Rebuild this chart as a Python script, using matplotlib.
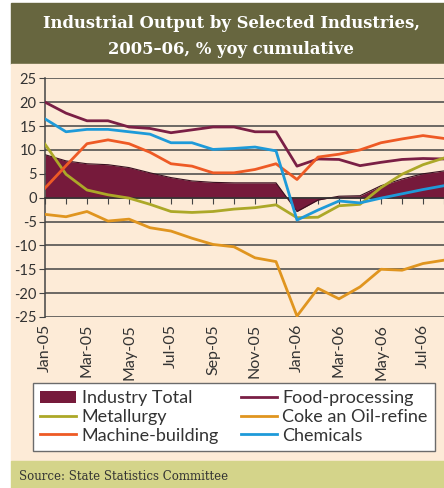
"""
Industrial output by selected industries, 2005-06
"""

import numpy as np
import matplotlib.pyplot as plt
from matplotlib.patches import Rectangle, Patch
from matplotlib.lines import Line2D

months = ["Jan-05", "Feb-05", "Mar-05", "Apr-05", "May-05", "Jun-05", "Jul-05",
          "Aug-05", "Sep-05", "Oct-05", "Nov-05", "Dec-05", "Jan-06", "Feb-06",
          "Mar-06", "Apr-06", "May-06", "Jun-06", "Jul-06", "Aug-06"]

industry_total = [9.0, 7.7, 7.1, 6.9, 6.3, 5.2, 4.2, 3.5, 3.2, 3.1,
                  3.1, 3.1, -2.9, -0.5, 0.3, 0.4, 2.5, 3.9, 5.0, 5.6]
food = [20.0, 17.7, 16.1, 16.1, 14.8, 14.5, 13.6, 14.2, 14.8, 14.8,
        13.8, 13.8, 6.6, 8.1, 8.0, 6.7, 7.4, 8.0, 8.2, 8.1]
metallurgy = [11.2, 4.9, 1.6, 0.6, -0.1, -1.4, -2.9, -3.1, -2.9, -2.4,
              -2.1, -1.5, -4.2, -4.1, -1.7, -1.4, 2.1, 4.9, 6.9, 8.3]
coke = [-3.5, -4.0, -2.9, -4.9, -4.5, -6.3, -7.0, -8.5, -9.8, -10.3,
        -12.6, -13.4, -24.8, -19.0, -21.2, -18.7, -15.0, -15.2, -13.8, -13.1]
machine = [2.0, 6.7, 11.3, 12.1, 11.3, 9.5, 7.1, 6.6, 5.2, 5.2,
           5.9, 7.1, 3.8, 8.5, 9.1, 10.0, 11.5, 12.3, 13.0, 12.4]
chemicals = [16.5, 13.8, 14.3, 14.3, 13.8, 13.3, 11.5, 11.5, 10.1, 10.3,
             10.6, 9.8, -4.7, -2.6, -0.7, -1.1, -0.1, 0.8, 1.7, 2.5]

yticks = [25, 20, 15, 10, 5, 0, -5, -10, -15, -20, -25]

c_total = "#761a3b"
c_food = "#7a1f45"
c_metal = "#aca828"
c_coke = "#e0951f"
c_machine = "#ee5a25"
c_chem = "#1e9ad9"
bg = "#fdebd7"

W, H = 444, 488
fig = plt.figure(figsize=(W / 100, H / 100), dpi=100, facecolor="white")

# background bands
fig.add_artist(Rectangle((11 / W, 1 - 64 / H), 1, 61 / H,
                         transform=fig.transFigure, color="#67663f", zorder=0))
fig.add_artist(Rectangle((11 / W, 1 - 461 / H), 1, 397 / H,
                         transform=fig.transFigure, color=bg, zorder=0))
fig.add_artist(Rectangle((11 / W, 0), 1, 27 / H,
                         transform=fig.transFigure, color="#d4d48a", zorder=0))

fig.text(231 / W, 1 - 23 / H, "Industrial Output by Selected Industries,",
         ha="center", va="center", color="white", fontsize=11.8,
         family="DejaVu Serif", weight="bold")
fig.text(231 / W, 1 - 50 / H, "2005\u201306, % yoy cumulative",
         ha="center", va="center", color="white", fontsize=11.8,
         family="DejaVu Serif", weight="bold")
fig.text(19 / W, 1 - 477 / H, "Source: State Statistics Committee",
         ha="left", va="center", color="#333333", fontsize=8.5,
         family="DejaVu Serif")

ax = fig.add_axes([45 / W, 1 - 317 / H, 399 / W, 238.7 / H])
ax.set_facecolor("none")
x = np.arange(len(months))

ax.fill_between(x, 0, industry_total, color=c_total, lw=0, zorder=2)
ax.plot(x, industry_total, color="#3a1020", lw=0.8, zorder=2.5)
ax.plot(x, food, color=c_food, lw=2.0, zorder=3)
ax.plot(x, metallurgy, color=c_metal, lw=2.0, zorder=3)
ax.plot(x, coke, color=c_coke, lw=2.0, zorder=3)
ax.plot(x, machine, color=c_machine, lw=2.0, zorder=3)
ax.plot(x, chemicals, color=c_chem, lw=2.0, zorder=3)

ax.set_xlim(0, 18.8)
ax.set_ylim(-25, 25)
ax.set_yticks(yticks)
ax.set_yticklabels([str(v) for v in yticks])
for v in yticks:
    ax.axhline(v, color="#444444", lw=1.1, zorder=1)

for s in ["top", "right"]:
    ax.spines[s].set_visible(False)
ax.spines["left"].set_color("#444444")
ax.spines["left"].set_linewidth(1.1)
ax.spines["bottom"].set_position(("data", 0))
ax.spines["bottom"].set_color("#333333")
ax.spines["bottom"].set_linewidth(1.1)
ax.set_xticks(x)
ax.tick_params(axis="x", direction="out", length=4, color="#444444",
               labelbottom=False)
ax.tick_params(axis="y", direction="out", length=4, color="#444444",
               labelsize=10.5, labelcolor="#333333", pad=2)
for lab in ax.get_yticklabels():
    lab.set_family("Lato")

sec = ax.secondary_xaxis("bottom")
sec.set_xticks(x[::2])
sec.set_xticklabels(months[::2], rotation=90, family="Lato", fontsize=11.5,
                    color="#333333")
sec.tick_params(length=0, pad=5)
sec.spines["bottom"].set_visible(False)

handles = [
    Patch(facecolor=c_total, edgecolor="none"),
    Line2D([], [], color=c_metal, lw=2),
    Line2D([], [], color=c_machine, lw=2),
    Line2D([], [], color=c_food, lw=2),
    Line2D([], [], color=c_coke, lw=2),
    Line2D([], [], color=c_chem, lw=2),
]
labels = ["Industry Total", "Metallurgy", "Machine-building",
          "Food-processing", "Coke an Oil-refine", "Chemicals"]
leg = fig.legend(handles, labels, ncol=2, loc="upper left",
                 bbox_to_anchor=(33 / W, 1 - 451 / H, 402 / W, 68 / H),
                 mode="expand", frameon=True, fancybox=False,
                 edgecolor="#6b6b6b", facecolor="white", framealpha=1,
                 prop={"family": "Lato", "size": 13},
                 handlelength=2.0, handletextpad=0.3, labelspacing=0.15,
                 borderpad=0.4, borderaxespad=0)
leg.get_frame().set_linewidth(1.0)
for t in leg.get_texts():
    t.set_color("#333333")

fig.savefig("out.png", dpi=100)
